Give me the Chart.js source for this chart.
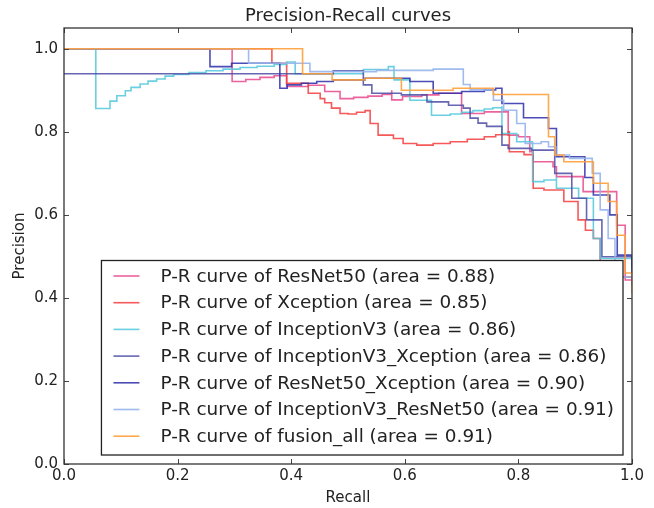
<!DOCTYPE html>
<html>
<head>
<meta charset="utf-8">
<script src="https://cdn.jsdelivr.net/npm/chart.js@4.4.0/dist/chart.umd.min.js"></script>
<style>
  body { margin: 0; background: #fff; }
  canvas { display: block; }
</style>
</head>
<body>
<canvas id="prChart" width="654" height="508"></canvas>
<script>
// values (recall, precision) - step corners
var recallResNet50 = [0, 0.296, 0.32, 0.345, 0.37, 0.392, 0.392, 0.43, 0.459, 0.486, 0.51, 0.535, 0.56, 0.577, 0.577, 0.596, 0.63, 0.66, 0.70, 0.74, 0.782, 0.80, 0.82, 0.826, 0.861, 0.867, 0.914, 0.973, 0.988, 1.0];
var precisionResNet50 = [1.0, 0.921, 0.926, 0.931, 0.935, 0.938, 0.909, 0.912, 0.897, 0.880, 0.883, 0.886, 0.890, 0.900, 0.877, 0.885, 0.889, 0.893, 0.844, 0.848, 0.792, 0.788, 0.752, 0.728, 0.716, 0.692, 0.656, 0.575, 0.443, 0.443];

var recallXception = [0, 0.366, 0.392, 0.43, 0.451, 0.459, 0.471, 0.486, 0.50, 0.515, 0.53, 0.539, 0.553, 0.58, 0.597, 0.621, 0.65, 0.68, 0.71, 0.74, 0.76, 0.782, 0.784, 0.81, 0.826, 0.845, 0.88, 0.905, 0.918, 0.932, 0.944, 1.0];
var precisionXception = [1.0, 0.965, 0.917, 0.893, 0.880, 0.870, 0.857, 0.844, 0.843, 0.847, 0.851, 0.820, 0.792, 0.784, 0.772, 0.768, 0.772, 0.776, 0.782, 0.788, 0.793, 0.800, 0.752, 0.745, 0.664, 0.660, 0.632, 0.588, 0.563, 0.543, 0.450, 0.430];

var recallInceptionV3 = [0, 0.056, 0.081, 0.093, 0.108, 0.118, 0.134, 0.148, 0.163, 0.178, 0.193, 0.22, 0.25, 0.28, 0.31, 0.34, 0.37, 0.392, 0.407, 0.527, 0.571, 0.581, 0.609, 0.647, 0.68, 0.70, 0.72, 0.74, 0.755, 0.771, 0.771, 0.797, 0.825, 0.845, 0.867, 0.867, 0.906, 0.932, 0.944, 1.0];
var precisionInceptionV3 = [1.0, 0.856, 0.874, 0.887, 0.899, 0.907, 0.915, 0.922, 0.927, 0.934, 0.938, 0.943, 0.947, 0.951, 0.955, 0.958, 0.962, 0.968, 0.940, 0.950, 0.957, 0.925, 0.876, 0.840, 0.843, 0.847, 0.851, 0.855, 0.858, 0.862, 0.796, 0.776, 0.680, 0.684, 0.692, 0.664, 0.640, 0.543, 0.495, 0.480];

var recallIncV3Xception = [0, 0.474, 0.527, 0.542, 0.594, 0.639, 0.677, 0.703, 0.715, 0.729, 0.744, 0.771, 0.782, 0.823, 0.864, 0.894, 0.92, 0.947, 1.0];
var precisionIncV3Xception = [0.94, 0.947, 0.913, 0.893, 0.889, 0.872, 0.864, 0.857, 0.833, 0.821, 0.813, 0.768, 0.760, 0.756, 0.700, 0.640, 0.588, 0.499, 0.470];

var recallResNet50Xception = [0, 0.257, 0.295, 0.38, 0.393, 0.418, 0.445, 0.474, 0.53, 0.609, 0.65, 0.70, 0.74, 0.76, 0.771, 0.809, 0.853, 0.867, 0.917, 0.932, 0.961, 0.974, 1.0];
var precisionResNet50Xception = [1.0, 0.957, 0.965, 0.905, 0.913, 0.917, 0.921, 0.925, 0.929, 0.921, 0.893, 0.897, 0.901, 0.905, 0.868, 0.834, 0.808, 0.740, 0.690, 0.648, 0.600, 0.503, 0.460];

var recallIncV3ResNet50 = [0, 0.325, 0.433, 0.55, 0.65, 0.703, 0.715, 0.756, 0.774, 0.797, 0.812, 0.84, 0.853, 0.866, 0.89, 0.93, 0.944, 0.958, 0.97, 1.0];
var precisionIncV3ResNet50 = [1.0, 0.965, 0.945, 0.948, 0.951, 0.914, 0.901, 0.876, 0.852, 0.820, 0.772, 0.776, 0.764, 0.744, 0.736, 0.700, 0.612, 0.543, 0.450, 0.440];

var recallFusionAll = [0, 0.42, 0.472, 0.53, 0.594, 0.685, 0.756, 0.853, 0.864, 0.88, 0.932, 0.958, 0.973, 0.988, 1.0];
var precisionFusionAll = [1.0, 0.94, 0.925, 0.929, 0.90, 0.905, 0.89, 0.788, 0.744, 0.728, 0.676, 0.632, 0.551, 0.46, 0.41];

var models = ['ResNet50', 'Xception', 'InceptionV3', 'InceptionV3_Xception', 'ResNet50_Xception', 'InceptionV3_ResNet50', 'fusion_all'];
var areas = ['0.88', '0.85', '0.86', '0.86', '0.90', '0.91', '0.91'];
var xTicks = [0, 0.2, 0.4, 0.6, 0.8, 1.0];
var yTicks = [0, 0.2, 0.4, 0.6, 0.8, 1.0];

var recalls = [recallResNet50, recallXception, recallInceptionV3, recallIncV3Xception, recallResNet50Xception, recallIncV3ResNet50, recallFusionAll];
var precisions = [precisionResNet50, precisionXception, precisionInceptionV3, precisionIncV3Xception, precisionResNet50Xception, precisionIncV3ResNet50, precisionFusionAll];
var colors = [
    'rgba(232, 70, 140, 0.85)',
    'rgba(245, 60, 60, 0.85)',
    'rgba(80, 200, 220, 0.85)',
    'rgba(75, 75, 165, 0.85)',
    'rgba(45, 45, 170, 0.85)',
    'rgba(150, 180, 235, 0.9)',
    'rgba(255, 160, 60, 0.9)'
];

var FONT = '"DejaVu Sans", sans-serif';
var TEXT = '#222';

var datasets = models.map(function(m, i) {
    return {
        label: 'P-R curve of ' + m + ' (area = ' + areas[i] + ')',
        data: recalls[i].map(function(r, j) { return { x: r, y: precisions[i][j] }; }),
        borderColor: colors[i],
        borderWidth: 1.6,
        pointRadius: 0,
        fill: false,
        stepped: 'before',
        order: models.length - i
    };
});

// frame, inward ticks and the matplotlib-like legend box
var framePlugin = {
    id: 'frame',
    afterDatasetsDraw: function(chart) {
        var ctx = chart.ctx;
        var a = chart.chartArea;
        var xs = chart.scales.x, ys = chart.scales.y;
        ctx.save();

        ctx.strokeStyle = '#444';
        ctx.lineWidth = 1;
        ctx.beginPath();
        xTicks.forEach(function(v) {
            var px = Math.round(xs.getPixelForValue(v)) + 0.5;
            ctx.moveTo(px, a.bottom); ctx.lineTo(px, a.bottom - 5);
            ctx.moveTo(px, a.top); ctx.lineTo(px, a.top + 5);
        });
        yTicks.forEach(function(v) {
            var py = Math.round(ys.getPixelForValue(v)) + 0.5;
            ctx.moveTo(a.left, py); ctx.lineTo(a.left + 5, py);
            ctx.moveTo(a.right, py); ctx.lineTo(a.right - 5, py);
        });
        ctx.stroke();

        ctx.strokeStyle = '#333';
        ctx.lineWidth = 1.3;
        ctx.strokeRect(a.left, a.top, a.right - a.left, a.bottom - a.top);

        // legend, lower right
        ctx.font = '18.4px ' + FONT;
        var rowH = 26.7;
        var maxW = 0;
        chart.data.datasets.forEach(function(d) {
            maxW = Math.max(maxW, ctx.measureText(d.label).width);
        });
        var w = 59 + maxW + 9;
        var h = 15 + rowH * (chart.data.datasets.length - 1) + 19.3;
        var right = a.right - 9, bottom = a.bottom - 9;
        var left = right - w, top = bottom - h;
        ctx.fillStyle = '#fff';
        ctx.fillRect(left, top, w, h);
        ctx.strokeStyle = '#222';
        ctx.lineWidth = 1.3;
        ctx.strokeRect(left, top, w, h);
        ctx.textBaseline = 'middle';
        ctx.textAlign = 'left';
        chart.data.datasets.forEach(function(d, i) {
            var cy = top + 15.5 + i * rowH;
            ctx.strokeStyle = d.borderColor;
            ctx.lineWidth = 1.6;
            ctx.beginPath();
            ctx.moveTo(left + 12, cy);
            ctx.lineTo(left + 38, cy);
            ctx.stroke();
            ctx.fillStyle = TEXT;
            ctx.fillText(d.label, left + 59, cy + 1);
        });
        ctx.restore();
    }
};

var ctx = document.getElementById('prChart').getContext('2d');
var chart = new Chart(ctx, {
    type: 'line',
    data: { datasets: datasets },
    options: {
        responsive: false,
        animation: false,
        layout: { padding: { left: 0, right: 22, top: 0, bottom: 0 } },
        plugins: {
            legend: { display: false },
            tooltip: { enabled: false },
            title: {
                display: true,
                text: 'Precision-Recall curves',
                fullSize: false,
                color: TEXT,
                font: { family: FONT, size: 18, weight: 'normal' },
                padding: { top: 6, bottom: 0.4 }
            }
        },
        scales: {
            x: {
                type: 'linear',
                min: 0,
                max: 1,
                afterFit: function(s) { s.height = 44; },
                afterBuildTicks: function(s) { s.ticks = xTicks.map(function(v) { return { value: v }; }); },
                grid: { display: false, drawTicks: false },
                border: { display: false },
                ticks: {
                    color: TEXT,
                    font: { family: FONT, size: 15 },
                    padding: 3,
                    maxRotation: 0,
                    autoSkip: false,
                    callback: function(v) { return v.toFixed(1); }
                },
                title: {
                    display: true,
                    text: 'Recall',
                    color: TEXT,
                    font: { family: FONT, size: 15 },
                    padding: { top: 0, bottom: 1 }
                }
            },
            y: {
                type: 'linear',
                min: 0,
                max: 1.05,
                afterFit: function(s) { s.width = 64; },
                afterBuildTicks: function(s) { s.ticks = yTicks.map(function(v) { return { value: v }; }); },
                grid: { display: false, drawTicks: false },
                border: { display: false },
                ticks: {
                    color: TEXT,
                    font: { family: FONT, size: 15 },
                    padding: 6,
                    autoSkip: false,
                    callback: function(v) { return v.toFixed(1); }
                },
                title: {
                    display: true,
                    text: 'Precision',
                    color: TEXT,
                    font: { family: FONT, size: 15 },
                    padding: { top: 11, bottom: 0 }
                }
            }
        }
    },
    plugins: [framePlugin]
});
</script>
</body>
</html>
